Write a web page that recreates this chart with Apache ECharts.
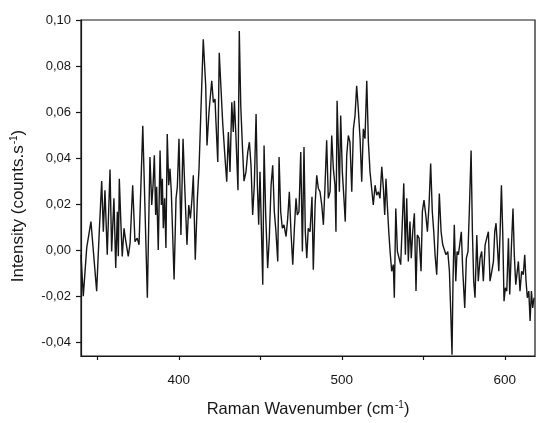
<!DOCTYPE html>
<html><head><meta charset="utf-8">
<script src="https://cdn.jsdelivr.net/npm/echarts@6/dist/echarts.min.js"></script>
<style>html,body{margin:0;padding:0;background:#fff}#c{width:536px;height:423px}</style>
</head><body><div id="c"></div>
<script>
const wavenumbers = [
340.0,341.4,343.5,346.1,349.6,351.2,352.7,353.7,354.7,356.1,
357.8,358.8,360.2,361.3,362.3,362.9,363.5,364.5,365.3,366.4,
367.2,369.0,370.1,371.7,373.1,374.5,375.6,377.9,378.7,380.7,
382.3,383.4,384.2,385.0,385.8,386.4,387.4,388.5,389.3,389.9,
390.5,391.3,392.1,392.9,393.8,394.6,395.4,397.1,398.3,399.1,
400.1,401.3,402.6,403.6,405.0,406.1,407.1,408.1,408.9,410.1,
411.4,412.4,415.0,416.5,417.3,418.5,420.2,421.2,422.2,422.8,
423.9,424.8,426.9,428.3,429.4,430.4,431.4,432.5,433.4,434.1,
435.1,436.3,437.1,438.0,439.0,440.0,441.2,442.3,443.3,444.3,
445.3,446.3,447.4,448.2,449.0,449.8,450.6,451.5,452.3,453.3,
454.5,455.5,456.6,457.6,458.6,459.6,460.7,461.5,462.5,463.5,
464.5,465.8,466.8,467.8,468.8,469.9,470.9,471.9,472.7,473.7,
474.8,475.8,476.8,477.6,478.5,479.4,480.5,481.7,482.5,483.6,
484.6,485.6,486.6,487.7,488.7,489.7,490.7,491.7,492.8,493.8,
494.8,495.8,496.4,497.1,497.9,498.5,499.3,500.3,501.3,502.1,
503.0,504.0,505.0,506.1,507.1,508.1,509.1,510.1,511.2,512.2,
513.2,514.2,515.3,516.3,517.3,518.3,519.3,520.4,521.4,522.4,
523.4,524.5,525.5,526.3,527.1,527.9,528.8,529.6,530.6,531.6,
532.2,533.1,534.1,535.1,536.1,536.9,538.0,539.0,539.8,540.8,
541.8,542.6,543.5,544.5,545.5,546.3,547.4,548.6,549.4,550.4,
551.5,552.5,553.5,554.5,555.5,556.4,557.2,558.2,559.0,559.8,
560.9,561.9,562.9,563.9,565.0,566.0,566.8,567.6,568.2,569.0,
569.9,570.7,571.5,572.3,573.3,574.2,575.4,576.4,577.4,578.2,
579.3,580.1,580.9,581.7,582.8,583.7,584.8,585.8,586.8,587.9,
588.9,589.9,590.9,592.0,593.0,593.8,594.6,595.4,596.3,597.1,
597.9,598.7,599.5,600.3,601.2,602.2,603.0,604.0,605.0,605.8,
606.7,607.5,608.3,609.3,610.3,611.3,612.2,613.0,613.8,614.7,
615.5,616.3,617.1,617.9
];
const intensities = [
-0.002,-0.020,0.001,0.0124,-0.0178,0.008,0.030,0.008,0.026,-0.002,
0.035,-0.0006,0.0225,-0.0078,0.0167,-0.0027,0.031,0.011,-0.0027,0.0095,
0.0052,-0.0027,0.003,0.0282,0.0037,0.0052,0.0023,0.054,0.0325,-0.0207,
0.0405,0.0196,0.0282,0.0412,0.0153,0.0275,0.0001,0.0433,0.0196,0.031,
0.0095,0.0225,0.0009,0.0505,0.0282,0.0354,0.0254,-0.0128,0.0225,0.0275,
0.0484,0.0066,0.0484,0.0282,0.0023,0.0196,0.0138,0.0225,0.0325,-0.0042,
0.0225,0.0354,0.0916,0.0714,0.0455,0.0599,0.0736,0.0642,0.0657,0.0556,
0.0383,0.0858,0.0556,0.0405,0.0297,0.0513,0.034,0.0642,0.0513,0.0649,
0.0484,0.026,0.0952,0.0628,0.0455,0.030,0.034,0.0426,0.0469,0.0369,
0.0153,0.0282,0.0592,0.0282,0.011,0.034,0.011,-0.015,0.0455,0.0153,
-0.0078,0.0052,0.0282,0.0369,0.0167,0.008,-0.0049,0.0405,0.0167,0.0095,
0.011,0.0059,0.0138,0.0254,0.008,-0.0063,0.0095,0.0225,0.0153,0.0167,
0.0426,-0.0006,0.0448,0.008,-0.0035,0.0095,0.008,0.0232,-0.0085,0.0196,
0.0325,0.0268,0.0254,0.0196,0.011,0.0282,0.0477,0.0225,0.0254,0.0498,
0.0354,0.0282,0.008,0.0649,0.0441,0.0254,0.0585,0.034,0.0225,0.0124,
0.0412,0.0498,0.0469,0.0254,0.0527,0.0585,0.0714,0.0613,0.0484,0.0297,
0.0527,0.0484,0.0736,0.0469,0.034,0.0268,0.0196,0.0282,0.0239,0.0254,
0.0225,0.0362,0.0268,0.0153,0.031,0.0196,0.008,-0.0006,-0.0092,-0.0063,
-0.0207,0.0181,-0.0006,-0.0006,-0.0063,0.008,0.029,-0.002,0.0225,-0.0049,
0.0124,-0.0035,0.008,0.016,-0.0178,0.0066,0.0052,-0.0092,0.0167,0.0217,
0.0153,0.008,0.0196,0.0376,0.0167,0.008,-0.002,-0.0107,0.0052,0.0246,
0.008,0.0023,0.0023,-0.002,-0.0006,-0.0092,-0.0265,-0.0455,-0.0135,0.011,
-0.0135,-0.0006,-0.002,0.0023,0.008,-0.0092,-0.0251,-0.0035,-0.0006,0.0167,
0.0433,0.008,-0.0135,-0.0207,0.0066,-0.0135,-0.0035,-0.0006,-0.0135,0.0023,
0.0052,0.008,-0.0135,-0.0092,-0.0049,0.008,0.0117,0.0023,-0.0092,0.008,
0.0282,0.008,-0.0222,-0.0164,-0.0178,0.0052,-0.0193,0.0009,0.0181,-0.002,
-0.015,-0.015,-0.0049,-0.0178,-0.0092,-0.0107,-0.002,-0.0135,-0.0207,-0.0178,
-0.0308,-0.0178,-0.0251,-0.0207
];
const xTickValues = [350, 400, 450, 500, 550, 600];
const xLabelValues = [400, 500, 600];
const yTickValues = [-0.04, -0.02, 0, 0.02, 0.04, 0.06, 0.08, 0.10];
const xTitle = 'Raman Wavenumber (cm{sup|-1})';
const yTitle = 'Intensity (counts.s{sup|-1})';

const seriesData = wavenumbers.map((w, i) => [w, intensities[i]]);
const font = 'Arial, "Liberation Sans", sans-serif';
const ink = '#161616';
const supStyle = {fontSize: 10, fontFamily: font, color: ink, verticalAlign: 'top', padding: [0, 0, 9, 1]};
const chart = echarts.init(document.getElementById('c'), null, {renderer: 'canvas'});
chart.setOption({
  animation: false,
  backgroundColor: '#ffffff',
  grid: {left: 81, top: 20, right: 1, bottom: 65, show: true, borderColor: ink, borderWidth: 1.2},
  xAxis: {
    type: 'value', min: 340, max: 618.5,
    name: xTitle, nameLocation: 'middle', nameGap: 44,
    nameTextStyle: {color: ink, fontFamily: font, fontSize: 16.5, rich: {sup: supStyle}},
    axisLine: {show: true, onZero: false, lineStyle: {color: ink, width: 1.2}},
    axisTick: {show: true, customValues: xTickValues, length: 4, lineStyle: {color: ink, width: 1.2}},
    axisLabel: {customValues: xLabelValues, color: ink, fontFamily: font, fontSize: 13.5, margin: 17},
    splitLine: {show: false}
  },
  yAxis: {
    type: 'value', min: -0.046, max: 0.10,
    name: yTitle, nameLocation: 'middle', nameGap: 53,
    nameTextStyle: {color: ink, fontFamily: font, fontSize: 17, padding: [0, 36, 0, 0], rich: {sup: supStyle}},
    axisLine: {show: true, onZero: false, lineStyle: {color: ink, width: 1.2}},
    axisTick: {show: true, customValues: yTickValues, length: 5, lineStyle: {color: ink, width: 1.2}},
    axisLabel: {customValues: yTickValues, color: ink, fontFamily: font, fontSize: 13, margin: 10,
      formatter: v => v.toFixed(2).replace('.', ',')},
    splitLine: {show: false}
  },
  series: [{
    type: 'line', data: seriesData, showSymbol: false, symbol: 'none',
    lineStyle: {color: ink, width: 1.4}, silent: true
  }]
});
</script>
</body></html>
